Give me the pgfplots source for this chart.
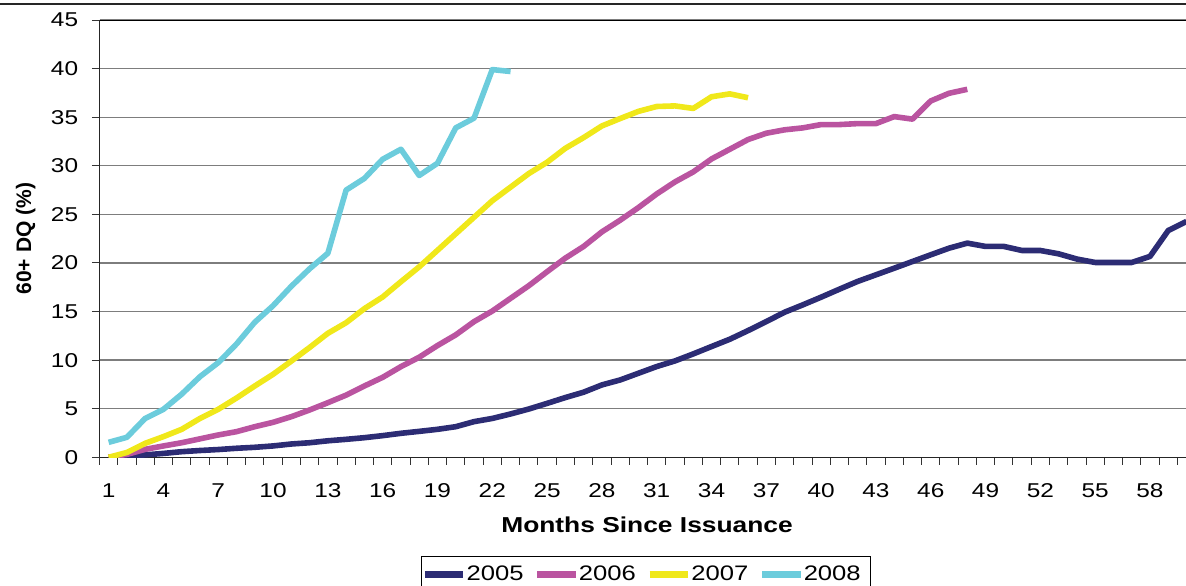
\documentclass[border=0pt]{standalone}
\usepackage{fontspec}
\setmainfont[FakeStretch=1.22]{Liberation Sans}
\newfontfamily\uprightsans{Liberation Sans}
\usepackage{pgfplots}
\usepackage{pgfplotstable}
\pgfplotsset{compat=1.18}

\definecolor{c2005}{RGB}{44,44,116}
\definecolor{c2006}{RGB}{186,84,160}
\definecolor{c2007}{RGB}{240,232,26}
\definecolor{c2008}{RGB}{108,204,220}
\definecolor{gridgray}{RGB}{125,125,125}

% 60+ day delinquency (%) by months since issuance, one table per vintage
\pgfplotstableread{
m v
1 0.00
2 0.10
3 0.25
4 0.40
5 0.58
6 0.70
7 0.80
8 0.93
9 1.03
10 1.17
11 1.37
12 1.50
13 1.70
14 1.85
15 2.02
16 2.23
17 2.47
18 2.67
19 2.88
20 3.15
21 3.67
22 4.00
23 4.46
24 4.97
25 5.55
26 6.15
27 6.70
28 7.45
29 7.96
30 8.65
31 9.34
32 9.92
33 10.64
34 11.40
35 12.15
36 13.04
37 13.97
38 14.93
39 15.69
40 16.48
41 17.30
42 18.10
43 18.78
44 19.46
45 20.15
46 20.84
47 21.52
48 22.04
49 21.70
50 21.70
51 21.28
52 21.28
53 20.94
54 20.40
55 20.05
56 20.05
57 20.05
58 20.67
59 23.34
60 24.27
}\dqA

\pgfplotstableread{
m v
1 0.00
2 0.30
3 0.82
4 1.17
5 1.50
6 1.90
7 2.30
8 2.64
9 3.15
10 3.60
11 4.18
12 4.87
13 5.62
14 6.40
15 7.34
16 8.23
17 9.33
18 10.30
19 11.50
20 12.60
21 13.96
22 15.05
23 16.36
24 17.66
25 19.10
26 20.50
27 21.70
28 23.20
29 24.40
30 25.70
31 27.10
32 28.34
33 29.37
34 30.70
35 31.70
36 32.70
37 33.35
38 33.70
39 33.90
40 34.24
41 34.24
42 34.34
43 34.34
44 35.06
45 34.80
46 36.67
47 37.46
48 37.87
}\dqB

\pgfplotstableread{
m v
1 0.00
2 0.50
3 1.44
4 2.13
5 2.88
6 4.00
7 4.94
8 6.10
9 7.34
10 8.54
11 9.90
12 11.30
13 12.76
14 13.85
15 15.30
16 16.50
17 18.07
18 19.60
19 21.30
20 23.00
21 24.70
22 26.40
23 27.80
24 29.20
25 30.36
26 31.80
27 32.90
28 34.10
29 34.86
30 35.60
31 36.10
32 36.16
33 35.90
34 37.10
35 37.40
36 37.00
}\dqC

\pgfplotstableread{
m v
1 1.54
2 2.06
3 4.00
4 4.94
5 6.50
6 8.30
7 9.74
8 11.66
9 13.90
10 15.60
11 17.60
12 19.40
13 21.00
14 27.50
15 28.70
16 30.67
17 31.70
18 29.00
19 30.26
20 33.90
21 34.90
22 39.90
23 39.70
}\dqD

\begin{document}
\begin{tikzpicture}
\begin{axis}[
  at={(0pt,0pt)}, anchor=south west,
  scale only axis,
  width=543.5pt, height=218.65pt,
  xmin=0.5, xmax=60, ymin=0, ymax=45,
  axis x line*=bottom, axis y line*=left,
  axis line style={black!85, line width=0.6pt, -},
  tick align=outside,
  major tick length=3.8pt,
  tick style={black!80, line width=0.5pt},
  xtick={0.5,1.5,...,59.5},
  xticklabels={},
  extra x ticks={1,4,...,58},
  extra x tick style={major tick length=0pt, grid=none,
    xticklabel style={anchor=north, inner sep=0pt, yshift=-12.85pt}},
  ytick={0,5,...,45},
  ymajorgrids,
  major grid style={gridgray, line width=0.65pt},
  /pgf/number format/assume math mode=true,
  ticklabel style={font=\fontsize{10}{12}\selectfont},
  yticklabel style={anchor=east, inner sep=0pt, xshift=-6.7pt},
  xlabel={Months Since Issuance},
  xlabel style={font=\bfseries\fontsize{10.8}{12}\selectfont,
    at={(axis description cs:0.5037,-0.1548)}, anchor=center},
  ylabel={60+ DQ (\%)},
  ylabel style={font=\uprightsans\bfseries\fontsize{10.5}{12}\selectfont,
    at={(axis description cs:-0.0679,0.5)}, anchor=center},
  legend columns=4,
  legend style={at={(axis description cs:0.2958,-0.2257)}, anchor=north west,
    draw=black, line width=0.6pt, inner xsep=0pt, inner ysep=4.5pt,
    nodes={inner sep=0pt},
    font=\fontsize{10.5}{12}\selectfont,
    /tikz/every odd column/.append style={column sep=0pt},
    /tikz/every even column/.append style={column sep=3.75pt}},
  legend image code/.code={\draw[#1, line width=3.2pt] (0pt,0pt) -- (19.25pt,0pt);},
  every axis plot/.append style={line width=2.8pt, line join=round},
]
\addplot[c2005] table[x=m, y=v] {\dqA};
\addlegendentry{\makebox[30pt][l]{2005}}
\addplot[c2006] table[x=m, y=v] {\dqB};
\addlegendentry{\makebox[30pt][l]{2006}}
\addplot[c2007] table[x=m, y=v] {\dqC};
\addlegendentry{\makebox[30pt][l]{2007}}
\addplot[c2008] table[x=m, y=v] {\dqD};
\addlegendentry{\makebox[33.25pt][l]{2008}}
\draw[black, line width=0.6pt] (rel axis cs:0,1) -- (rel axis cs:1,1);
\node[anchor=east, inner sep=0pt, font=\fontsize{8.2}{9}\selectfont]
  at (axis description cs:0.9922,-0.2394) {Source: Intex \& DBRS};
\end{axis}
\draw[black!85, line width=1.1pt] (-49.75pt,226.65pt) -- (543.25pt,226.65pt);
\pgfresetboundingbox
\path[use as bounding box] (-49.75pt,-63.85pt) rectangle (543.25pt,228.65pt);
\end{tikzpicture}
\end{document}
